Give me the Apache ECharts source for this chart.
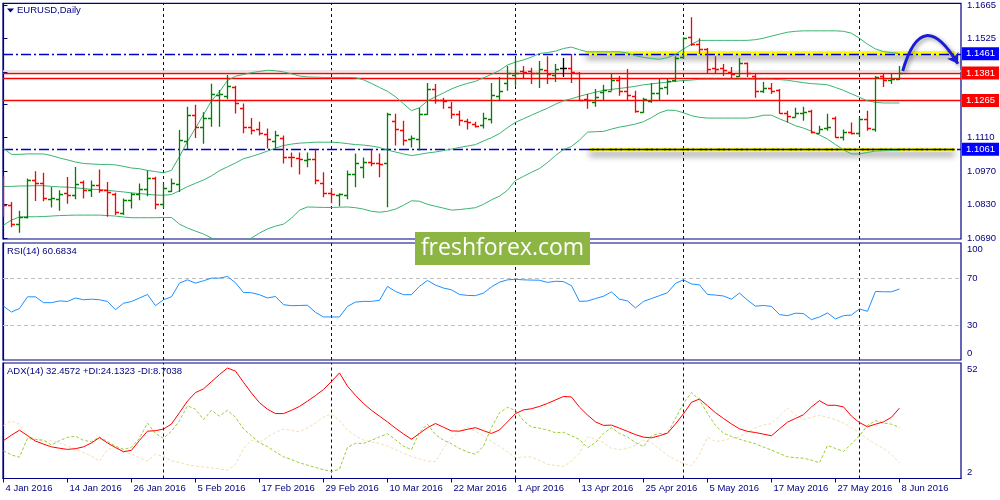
<!DOCTYPE html>
<html><head><meta charset="utf-8">
<script src="https://cdn.jsdelivr.net/npm/echarts@6/dist/echarts.min.js"></script>
<style>html,body{margin:0;padding:0;background:#fff}#c{width:1000px;height:500px}</style>
</head><body><div id="c"></div>
<script>
// ---------- data (daily bars, index 0 = 4 Jan 2016) ----------
const opens = [1.0931,1.0830,1.0748,1.0779,1.0931,1.0920,1.0855,1.0855,1.0879,1.0869,
1.0924,1.0893,1.0911,1.0893,1.0876,1.0793,1.0851,1.0873,1.0897,1.0943,
1.0834,1.0886,1.0918,1.1098,1.1206,1.1153,1.1192,1.1288,1.1285,1.1322,
1.1234,1.1153,1.1148,1.1127,1.1098,1.1110,1.1031,1.1023,1.1015,1.1019,
1.0919,1.0877,1.0869,1.0869,1.0956,1.0986,1.1010,1.1002,1.1002,1.1181,
1.1144,1.1106,1.1106,1.1210,1.1314,1.1268,1.1239,1.1210,1.1181,1.1169,
1.1164,1.1189,1.1285,1.1339,1.1372,1.1389,1.1389,1.1381,1.1393,1.1372,
1.1402,1.1402,1.1381,1.1272,1.1260,1.1302,1.1306,1.1352,1.1306,1.1285,
1.1219,1.1264,1.1297,1.1322,1.1352,1.1447,1.1530,1.1501,1.1481,1.1402,
1.1402,1.1385,1.1368,1.1422,1.1368,1.1306,1.1318,1.1310,1.1214,1.1198,
1.1214,1.1223,1.1131,1.1152,1.1194,1.1114,1.1135,1.1131,1.1189,1.1148,
1.1368,1.1352,1.1356];
const highs = [1.0948,1.0841,1.0804,1.0939,1.0969,1.0963,1.0904,1.0890,1.0945,1.0987,
1.0931,1.0931,1.0977,1.0924,1.0879,1.0855,1.0879,1.0918,1.0973,1.0946,
1.0918,1.0939,1.1142,1.1239,1.1248,1.1216,1.1336,1.1309,1.1372,1.1327,
1.1253,1.1192,1.1177,1.1148,1.1139,1.1119,1.1048,1.1048,1.1048,1.1060,
1.0965,1.0898,1.0877,1.0973,1.1044,1.1027,1.1060,1.1044,1.1214,1.1210,
1.1181,1.1119,1.1235,1.1339,1.1335,1.1277,1.1260,1.1223,1.1189,1.1177,
1.1214,1.1339,1.1364,1.1410,1.1443,1.1410,1.1402,1.1431,1.1451,1.1418,
1.1443,1.1460,1.1385,1.1293,1.1314,1.1331,1.1381,1.1368,1.1397,1.1306,
1.1277,1.1339,1.1356,1.1360,1.1451,1.1530,1.1614,1.1526,1.1485,1.1451,
1.1418,1.1406,1.1443,1.1424,1.1377,1.1343,1.1339,1.1314,1.1223,1.1235,
1.1239,1.1227,1.1160,1.1210,1.1198,1.1144,1.1173,1.1194,1.1223,1.1368,
1.1381,1.1377,1.1410];
const lows = [1.0779,1.0735,1.0712,1.0772,1.0845,1.0844,1.0818,1.0804,1.0834,1.0852,
1.0855,1.0862,1.0879,1.0779,1.0786,1.0786,1.0814,1.0848,1.0865,1.0810,
1.0814,1.0883,1.0883,1.1063,1.1109,1.1084,1.1156,1.1156,1.1271,1.1211,
1.1128,1.1123,1.1119,1.1065,1.1065,1.1002,1.0986,1.0956,1.0986,1.0915,
1.0861,1.0836,1.0823,1.0852,1.0902,1.0940,1.0990,1.0944,1.0819,1.1077,
1.1077,1.1069,1.1056,1.1206,1.1252,1.1231,1.1189,1.1160,1.1144,1.1152,
1.1148,1.1169,1.1264,1.1306,1.1327,1.1356,1.1335,1.1318,1.1335,1.1343,
1.1364,1.1339,1.1264,1.1231,1.1239,1.1268,1.1306,1.1285,1.1264,1.1214,
1.1214,1.1256,1.1264,1.1289,1.1343,1.1439,1.1493,1.1460,1.1381,1.1381,
1.1368,1.1360,1.1364,1.1364,1.1277,1.1297,1.1293,1.1210,1.1173,1.1194,
1.1181,1.1127,1.1127,1.1139,1.1110,1.1098,1.1123,1.1114,1.1139,1.1135,
1.1322,1.1335,1.1352];
const closes = [1.0830,1.0748,1.0779,1.0931,1.0920,1.0859,1.0858,1.0876,1.0869,1.0918,
1.0893,1.0914,1.0890,1.0882,1.0800,1.0851,1.0873,1.0897,1.0943,1.0832,
1.0898,1.0920,1.1101,1.1206,1.1153,1.1192,1.1292,1.1293,1.1327,1.1257,
1.1156,1.1142,1.1131,1.1106,1.1123,1.1031,1.1029,1.1019,1.1021,1.0931,
1.0877,1.0875,1.0873,1.0956,1.1006,1.1010,1.1006,1.0998,1.1210,1.1148,
1.1102,1.1108,1.1210,1.1314,1.1268,1.1264,1.1210,1.1185,1.1177,1.1160,
1.1194,1.1289,1.1306,1.1381,1.1381,1.1385,1.1381,1.1397,1.1377,1.1397,
1.1402,1.1385,1.1268,1.1268,1.1281,1.1310,1.1352,1.1306,1.1289,1.1223,
1.1272,1.1297,1.1318,1.1347,1.1443,1.1526,1.1501,1.1481,1.1397,1.1397,
1.1393,1.1377,1.1422,1.1381,1.1306,1.1318,1.1306,1.1214,1.1202,1.1214,
1.1218,1.1135,1.1148,1.1156,1.1114,1.1135,1.1131,1.1189,1.1152,1.1364,
1.1352,1.1356,1.1381];
const bbUpper = [1.1065,1.1040,1.1040,1.1042,1.1042,1.1042,1.1035,1.1025,1.1017,1.1008,
1.1002,1.1000,1.0998,1.0998,1.0996,1.0990,1.0983,1.0980,1.0973,1.0968,
1.0963,1.0973,1.1031,1.1094,1.1150,1.1206,1.1264,1.1302,1.1349,1.1367,
1.1374,1.1382,1.1387,1.1392,1.1390,1.1385,1.1377,1.1368,1.1364,1.1363,
1.1362,1.1362,1.1362,1.1362,1.1361,1.1352,1.1337,1.1320,1.1304,1.1281,
1.1252,1.1223,1.1235,1.1264,1.1281,1.1297,1.1314,1.1327,1.1337,1.1346,
1.1360,1.1375,1.1391,1.1414,1.1426,1.1435,1.1447,1.1462,1.1466,1.1472,
1.1483,1.1489,1.1478,1.1469,1.1469,1.1469,1.1469,1.1469,1.1464,1.1453,
1.1446,1.1441,1.1438,1.1445,1.1458,1.1481,1.1501,1.1517,1.1517,1.1517,
1.1517,1.1517,1.1517,1.1517,1.1520,1.1526,1.1535,1.1543,1.1551,1.1555,
1.1557,1.1557,1.1557,1.1557,1.1557,1.1555,1.1547,1.1526,1.1501,1.1481,
1.1470,1.1466,1.1462];
const bbMiddle = [1.0906,1.0906,1.0908,1.0908,1.0909,1.0909,1.0906,1.0904,1.0903,1.0900,
1.0897,1.0894,1.0893,1.0890,1.0886,1.0883,1.0879,1.0876,1.0873,1.0870,
1.0869,1.0872,1.0888,1.0905,1.0919,1.0933,1.0950,1.0972,1.0988,1.1004,
1.1022,1.1031,1.1042,1.1054,1.1066,1.1077,1.1083,1.1087,1.1089,1.1091,
1.1091,1.1091,1.1089,1.1085,1.1081,1.1079,1.1075,1.1069,1.1058,1.1050,
1.1042,1.1035,1.1040,1.1046,1.1050,1.1056,1.1062,1.1069,1.1075,1.1081,
1.1096,1.1110,1.1127,1.1152,1.1174,1.1189,1.1204,1.1219,1.1233,1.1250,
1.1264,1.1273,1.1283,1.1292,1.1300,1.1308,1.1312,1.1316,1.1320,1.1325,
1.1331,1.1335,1.1339,1.1342,1.1346,1.1349,1.1351,1.1354,1.1354,1.1354,
1.1354,1.1354,1.1354,1.1354,1.1354,1.1354,1.1354,1.1353,1.1350,1.1345,
1.1340,1.1336,1.1334,1.1331,1.1320,1.1308,1.1293,1.1279,1.1264,1.1258,
1.1255,1.1255,1.1255];
const bbLower = [1.0744,1.0765,1.0778,1.0779,1.0779,1.0780,1.0782,1.0784,1.0785,1.0786,
1.0786,1.0786,1.0786,1.0784,1.0782,1.0778,1.0775,1.0775,1.0775,1.0775,
1.0776,1.0776,1.0748,1.0732,1.0719,1.0707,1.0690,1.0678,1.0669,1.0669,
1.0678,1.0690,1.0711,1.0728,1.0740,1.0748,1.0773,1.0807,1.0820,1.0819,
1.0818,1.0818,1.0819,1.0820,1.0817,1.0811,1.0802,1.0798,1.0802,1.0811,
1.0827,1.0846,1.0844,1.0831,1.0823,1.0815,1.0807,1.0809,1.0813,1.0817,
1.0831,1.0850,1.0865,1.0890,1.0931,1.0948,1.0965,1.0981,1.1006,1.1035,
1.1060,1.1073,1.1100,1.1133,1.1135,1.1136,1.1146,1.1154,1.1160,1.1167,
1.1177,1.1194,1.1214,1.1225,1.1224,1.1214,1.1202,1.1195,1.1192,1.1192,
1.1192,1.1192,1.1192,1.1192,1.1196,1.1204,1.1204,1.1189,1.1175,1.1160,
1.1150,1.1137,1.1121,1.1104,1.1081,1.1059,1.1042,1.1042,1.1048,1.1054,
1.1055,1.1056,1.1056];
const rsi = [46,41,44,54,54,49,49,50.5,50,53,
51.5,52,51.5,50,43,48.5,50,53,56,46.5,
51.5,54,65.7,68.5,65.7,67.7,70,70,71.4,66,
57.7,57.5,55.8,53,54.3,47.3,46.4,46.6,46.8,40.7,
36.8,36.8,36.8,45.8,49.5,50.1,50.1,51,62.9,58.6,
55.8,55.8,63,68,64,61.5,60,56,55.2,55,
57.2,62.5,66.5,68.5,69,68.5,68.3,68.2,66.3,67.3,
67,63.5,50.1,50.4,52.5,54.5,58.2,52,50.5,44.5,
50.1,52.5,55,57.5,65.5,68.5,65,64.2,56,55.5,
54.7,52,57.2,51.2,46,46.6,45.8,38.8,37.9,40,
39.7,34.5,36.8,40.2,35.1,37.9,38.5,43.6,41.6,58.6,
58.3,58.3,60.68];
const adx = [18.4,20.8,22.9,20.6,18.2,16.9,15.7,15.1,14.6,14.9,
15.7,17.4,19.7,17.4,15.4,13.6,14.2,18.5,22.5,22.7,
23.4,25.6,30.5,35.5,39.2,40.8,43.9,47,49.8,48.5,
43.7,39,34.8,32,30.1,30.1,31.5,33.2,35.5,37.9,
40.5,44,47.7,42,38,34.5,31.5,29,26.5,23.8,
21.3,19,21.5,24,25.8,24.2,22.6,22.5,23.3,24,
22.7,21.5,23,26.5,30.1,31.7,32.2,33.2,34.5,36,
37.5,37.3,32.9,29.5,26.5,25,25.1,23.8,22.4,21,
19.9,19.6,20.5,21.6,25.6,30,35,36.4,33.5,30.5,
28,25.6,23.5,22.4,21.9,21.2,20.5,23.5,26.4,28,
29.6,33,35.7,33.7,33.7,33,29,26.2,24.4,25.5,
26.5,28.5,32.46];
const plusDI = [14,12.2,11.2,19.4,18.9,18.6,16.5,18.4,19.8,20.3,
18.5,17.9,20,18,16,14.6,15.5,19.4,26,21.5,
19.4,22.5,27,33.5,32,27.5,31.5,29,31.5,28.5,
23.5,20.5,17.5,15.8,13.5,11.4,10.2,8.8,7.8,6.8,
5.8,5,6,15.5,17.2,17.2,18.5,20,21.4,18.8,
16,14.5,22,25.5,21,18.6,17,15,13.5,12.5,
16,24,30.5,32.8,31.5,27,24.3,23.8,23,21.8,
22,20.5,18.9,15.3,17.5,21.5,24,21.5,20,17.5,
15.8,20.5,21.5,21.5,28,34.5,39.2,36.1,30.1,25,
21.6,20.2,19,18,17,15.6,14.3,12.8,11.4,11,
10.8,10,8.8,16.3,15,13.7,17,20.5,25,27,
26,25.5,24.13];
const minusDI = [25,27,25.5,20.3,19,18,18.4,17.4,16,14.8,
13.2,11.7,9.5,14.5,15.5,13.8,12.5,11,9.6,12.5,
11.6,9.6,8.9,8,7.3,7,6.6,6.1,5.7,8,
15,18.6,17.5,19.9,22,23.4,22.8,22.2,24,26,
28.5,30,27,23,20.5,18.6,17.8,17.2,16,14.5,
13,11.5,10.5,9.5,9.3,15,19.5,22.5,24,22.5,
20.5,18,16,13.5,11,11.3,11.3,9.8,8.2,7.6,
7.2,9.5,13,20,19,17.5,15,14.5,15,16.5,
18.5,17.5,14.8,12,10,8.5,7.5,12.5,19.8,18,
18.5,19.5,20,22,24,25.2,25.7,29,32.5,29.5,
27.5,28.5,29.3,28.5,27.5,26,24,21.8,19,17,
15,12.5,8.70];
const dateTickIndex = [0,8,16,24,32,40,48,56,64,72,80,88,96,104,112];
const dateTickLabels = ['4 Jan 2016','14 Jan 2016','26 Jan 2016','5 Feb 2016','17 Feb 2016','29 Feb 2016','10 Mar 2016','22 Mar 2016','1 Apr 2016','13 Apr 2016','25 Apr 2016','5 May 2016','17 May 2016','27 May 2016','8 Jun 2016'];
const monthStartIndex = [20,41,64,85,107];
const priceTicks = [1.0690,1.0830,1.0970,1.1110,1.1250,1.1385,1.1525,1.1665];
const rsiTicks = [0,30,70,100];
const rsiLevels = [70,30];
const adxTicks = [2,52];
const resistance = 1.1461, support = 1.1061;
const redLevels = [1.1381,1.1359,1.1265];
const bidLevel = 1.1392;
const upperZone = {from:72.8, to:118.9, price:1.1465};
const lowerZone = {from:73.2, to:118.9, price:1.1061};
const forecastPath = [[112.4,1.1389],[119.3,1.1419]];

// ---------- chart ----------
const NAVY = '#000080';
const FONT = '"Liberation Sans", Arial, sans-serif';
const FS = 9.5;
const XMIN = -0.06, XMAX = 119.69;
const ohlc = opens.map((o,i)=>[i,o,highs[i],lows[i],closes[i]]);
const idx = arr => arr.map((v,i)=>[i,v]);

function renderOHLC(params, api){
  const i = api.value(0), o = api.value(1), c = api.value(4);
  const po = api.coord([i,o]), ph = api.coord([i,api.value(2)]), pl = api.coord([i,api.value(3)]), pc = api.coord([i,c]);
  const x = Math.round(po[0]) + 0.5;
  const col = c > o ? '#008000' : (c < o ? '#ff0000' : '#000000');
  const st = {stroke: col, lineWidth: 1.3};
  return {type:'group', children:[
    {type:'line', shape:{x1:x,y1:ph[1],x2:x,y2:pl[1]}, style:st},
    {type:'line', shape:{x1:x-3.5,y1:Math.round(po[1])+0.5,x2:x,y2:Math.round(po[1])+0.5}, style:st},
    {type:'line', shape:{x1:x,y1:Math.round(pc[1])+0.5,x2:x+3.5,y2:Math.round(pc[1])+0.5}, style:st}
  ]};
}

const sepLine = (xi, yi) => ({
  type:'line', xAxisIndex:xi, yAxisIndex:yi, data:[], silent:true, z:1,
  markLine:{silent:true, symbol:'none', precision:6, label:{show:false},
    lineStyle:{color:NAVY, width:1, type:[3,3]},
    data: monthStartIndex.map(v=>({xAxis:v}))}
});
const lbl = (txt, bg) => ({show:true, position:'end', distance:1, formatter:txt, color:'#fff',
  backgroundColor:bg, padding:[2,4,1,4], fontSize:FS, fontFamily:FONT});

const grids = [
  {left:3, top:2, width:958, height:237},
  {left:3, top:243, width:958, height:117},
  {left:3, top:363, width:958, height:115.5}
].map(g=>Object.assign(g,{show:true, borderColor:NAVY, borderWidth:1.2, backgroundColor:'transparent'}));

const xAxes = [0,1,2].map(g=>({
  gridIndex:g, type:'value', min:XMIN, max:XMAX, show: g===2,
  splitLine:{show:false},
  axisLine:{show:true, lineStyle:{color:NAVY, width:1.2}},
  axisTick:{show:true, customValues:dateTickIndex, length:4, lineStyle:{color:NAVY}},
  axisLabel:{customValues:dateTickIndex, formatter:v=>dateTickLabels[dateTickIndex.indexOf(v)] || '',
    align:'left', margin:5, padding:[0,0,0,2], color:NAVY, fontSize:FS, fontFamily:FONT}
}));

const yCommon = {type:'value', position:'right', splitLine:{show:false},
  axisLine:{show:true, lineStyle:{color:NAVY, width:1.2}}};
const yAxes = [
  Object.assign({gridIndex:0, min:1.0686, max:1.1672,
    axisTick:{show:true, customValues:priceTicks, length:4, lineStyle:{color:NAVY}},
    axisLabel:{customValues:priceTicks, formatter:v=>v.toFixed(4), color:NAVY, fontSize:FS, fontFamily:FONT, margin:6}}, yCommon),
  Object.assign({gridIndex:1, min:0, max:100,
    axisTick:{show:true, customValues:[30,70], length:4, lineStyle:{color:NAVY}},
    axisLabel:{customValues:rsiTicks, margin:6, color:NAVY, fontSize:FS, fontFamily:FONT,
      formatter:v=> v===100 ? '{dn|100}' : (v===0 ? '{up|0}' : String(v)),
      rich:{dn:{padding:[12,0,0,0], color:NAVY, fontSize:FS, fontFamily:FONT},
            up:{padding:[0,0,14,0], color:NAVY, fontSize:FS, fontFamily:FONT}}}}, yCommon),
  Object.assign({gridIndex:2, min:2, max:52,
    axisTick:{show:false},
    axisLabel:{customValues:adxTicks, margin:6, color:NAVY, fontSize:FS, fontFamily:FONT,
      formatter:v=> v===52 ? '{dn|52}' : '{up|2}',
      rich:{dn:{padding:[12,0,0,0], color:NAVY, fontSize:FS, fontFamily:FONT},
            up:{padding:[0,0,12,0], color:NAVY, fontSize:FS, fontFamily:FONT}}}}, yCommon)
];

const bbStyle = {color:'#3cb371', width:1};
const series = [
  sepLine(0,0), sepLine(1,1), sepLine(2,2),
  // yellow zones
  {type:'line', xAxisIndex:0, yAxisIndex:0, data:[], silent:true, z:2,
   markLine:{silent:true, symbol:'none', precision:6, label:{show:false},
     lineStyle:{color:'#ffff00', width:4, type:'solid', shadowColor:'rgba(0,0,0,0.45)', shadowBlur:6, shadowOffsetY:4},
     data:[[{coord:[upperZone.from,upperZone.price]},{coord:[upperZone.to,upperZone.price]}],
           [{coord:[lowerZone.from,lowerZone.price]},{coord:[lowerZone.to,lowerZone.price]}]]}},
  // level lines
  {type:'line', xAxisIndex:0, yAxisIndex:0, data:[], silent:true, z:3,
   markLine:{silent:true, symbol:'none', precision:6,
     data:[
       {yAxis:bidLevel, lineStyle:{color:'#dcdcdc', width:1.6, type:'solid'}, label:{show:false}},
       {yAxis:redLevels[1], lineStyle:{color:'#ff0000', width:1.3, type:'solid'}, label:{show:false}},
       {yAxis:redLevels[2], lineStyle:{color:'#ff0000', width:1.3, type:'solid'}, label:lbl('1.1265','#ff0000')},
       {yAxis:redLevels[0], lineStyle:{color:'#ff0000', width:1.3, type:'solid'}, label:lbl('1.1381','#ff0000')},
       {yAxis:resistance, lineStyle:{color:'#0000cd', width:1.4, type:[10,3,2,3]}, label:lbl('1.1461','#0000ff')},
       {yAxis:support, lineStyle:{color:'#0000cd', width:1.4, type:[10,3,2,3]}, label:lbl('1.1061','#0000ff')},
     ]}},
  // black dash-dot on lower zone
  {type:'line', xAxisIndex:0, yAxisIndex:0, data:[], silent:true, z:4,
   markLine:{silent:true, symbol:'none', precision:6, label:{show:false},
     lineStyle:{color:'#000', width:1.3, type:[10,3,2,3]},
     data:[[{coord:[lowerZone.from,lowerZone.price]},{coord:[lowerZone.to,lowerZone.price]}]]}},
  {type:'line', name:'BB upper', xAxisIndex:0, yAxisIndex:0, data:idx(bbUpper), showSymbol:false, lineStyle:bbStyle, z:5, silent:true},
  {type:'line', name:'BB middle', xAxisIndex:0, yAxisIndex:0, data:idx(bbMiddle), showSymbol:false, lineStyle:bbStyle, z:5, silent:true},
  {type:'line', name:'BB lower', xAxisIndex:0, yAxisIndex:0, data:idx(bbLower), showSymbol:false, lineStyle:bbStyle, z:5, silent:true},
  {type:'custom', name:'EURUSD', xAxisIndex:0, yAxisIndex:0, data:ohlc, renderItem:renderOHLC,
   encode:{x:0, y:[1,2,3,4]}, z:6, clip:true, silent:true},
  {type:'lines', coordinateSystem:'cartesian2d', xAxisIndex:0, yAxisIndex:0, z:8, silent:true,
   symbol:['none','arrow'], symbolSize:10,
   lineStyle:{color:'#1c1cd6', width:3, curveness:1.15, opacity:1,
     shadowColor:'rgba(0,0,0,0.4)', shadowBlur:4, shadowOffsetX:2, shadowOffsetY:2},
   data:[{coords:forecastPath}]},
  // RSI
  {type:'line', name:'RSI', xAxisIndex:1, yAxisIndex:1, data:idx(rsi), showSymbol:false, silent:true, z:5,
   lineStyle:{color:'#1e90ff', width:1},
   markLine:{silent:true, symbol:'none', precision:6, label:{show:false},
     lineStyle:{color:'#c0c0c0', width:1, type:[4,3]}, data:rsiLevels.map(v=>({yAxis:v}))}},
  // ADX
  {type:'line', name:'-DI', xAxisIndex:2, yAxisIndex:2, data:idx(minusDI), showSymbol:false, silent:true, z:4,
   lineStyle:{color:'#f5deb3', width:1, type:[3,2]}},
  {type:'line', name:'+DI', xAxisIndex:2, yAxisIndex:2, data:idx(plusDI), showSymbol:false, silent:true, z:5,
   lineStyle:{color:'#9acd32', width:1, type:[3,2]}},
  {type:'line', name:'ADX', xAxisIndex:2, yAxisIndex:2, data:idx(adx), showSymbol:false, silent:true, z:6,
   lineStyle:{color:'#ff0000', width:1}}
];

const ts = {fontSize:FS, fontFamily:FONT, fontWeight:'normal', color:NAVY};
const option = {
  animation:false,
  backgroundColor:'#ffffff',
  title:[
    {text:'EURUSD,Daily', left:17, top:5, padding:0, textStyle:ts},
    {text:'RSI(14) 60.6834', left:7, top:246, padding:0, textStyle:ts},
    {text:'ADX(14) 32.4572 +DI:24.1323 -DI:8.7038', left:7, top:366, padding:0, textStyle:ts}
  ],
  grid:grids, xAxis:xAxes, yAxis:yAxes, series:series,
  graphic:[
    {type:'polygon', shape:{points:[[7,8.5],[14,8.5],[10.5,12.5]]}, style:{fill:NAVY}, z:10},
    {type:'rect', shape:{x:415, y:232, width:175, height:33}, style:{fill:'#8db543'}, z:20},
    {type:'text', x:502.5, y:248.5, z:21, style:{text:'freshforex.com', fill:'#ffffff',
      font:'23px "Open Sans", "DejaVu Sans", sans-serif', align:'center', verticalAlign:'middle'}}
  ]
};
const chart = echarts.init(document.getElementById('c'), null, {renderer:'canvas'});
chart.setOption(option);
</script>
</body></html>
